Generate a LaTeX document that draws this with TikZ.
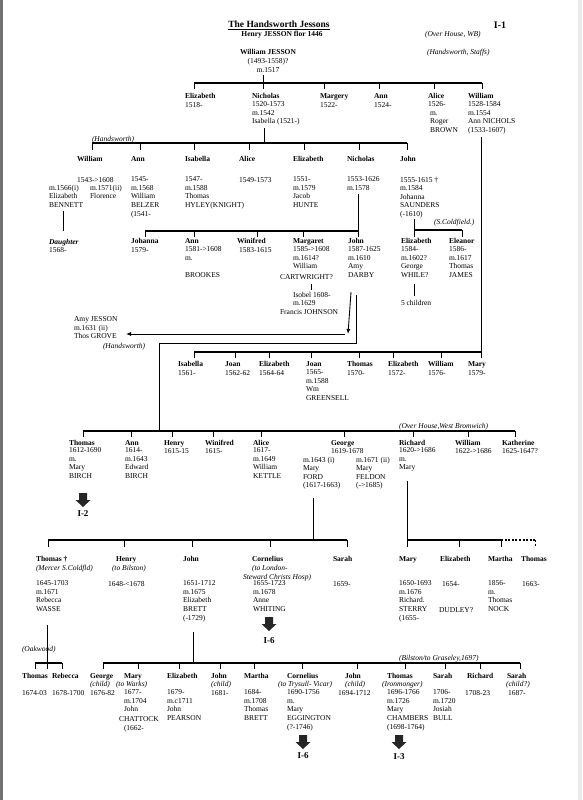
\documentclass[tikz,border=0pt]{standalone}
\usepackage{fontspec}
\setmainfont{Liberation Serif}
\usetikzlibrary{arrows.meta}
\newcommand\fsz{\fontsize{7.5}{8.6}\selectfont}
\newcommand\SSt{\rule{0pt}{5.8pt}}
\newcommand\fticks[3]{\foreach \xx in {#1} {\draw[ln] (\xx,#2) -- (\xx,#3);}}
\newcommand\barr[2]{\fill[black!85] (#1-4,#2) -- (#1+4,#2) -- (#1+4,#2+7) -- (#1+7.5,#2+7) -- (#1,#2+14) -- (#1-7.5,#2+7) -- (#1-4,#2+7) -- cycle;}
\begin{document}
\begin{tikzpicture}[x=1pt,y=-1pt,
  nm/.style={anchor=north west,inner sep=0pt,outer sep=0pt,font=\fsz\bfseries,yshift=3.2pt,execute at begin node=\SSt},
  tx/.style={nm,font=\fsz,align=left},
  it/.style={nm,font=\fsz\itshape},
  lab/.style={inner sep=0pt,font=\fontsize{9}{10}\selectfont\bfseries},
  ln/.style={line width=0.9pt},
  bar/.style={line width=1.1pt},
  arr/.style={ln,-{Latex[length=5pt,width=4pt]}}]
\fill[white] (0,0) rectangle (582,800);
\useasboundingbox (0,0) rectangle (582,800);
\fill[black!55] (0,0) rectangle (2.5,800);
\fill[black!8] (578,0) rectangle (582,800);

% ---------- header
\node[inner sep=0pt,font=\fontsize{9.5}{11}\selectfont\bfseries] (title) at (279,25) {\underline{The Handsworth Jessons}};
\node[inner sep=0pt,font=\fsz\bfseries] (henry) at (282,35) {Henry JESSON flor 1446};
\node[inner sep=0pt,font=\fontsize{10}{12}\selectfont\bfseries] (i1) at (500,25) {I-1};
\node[it] (oh) at (425,34) {(Over House, WB)};
\node[it] (hs) at (427,52) {(Handsworth, Staffs)};
\node[tx,anchor=north,align=center] (wj) at (268,52) {{\bfseries William JESSON}\\[1pt](1493-1558)?\\m.1517};

% ---------- generation 1
\draw[ln] (263,75) -- (263,83);
\draw[bar] (194,83) -- (482,83);
\fticks{194,263,324,379,434,482}{83}{89}
\node[nm] (g1a) at (185,96) {Elizabeth};
\node[tx] (g1ad) at (185,105) {1518-};
\node[nm] (g1b) at (252,96) {Nicholas};
\node[tx] (g1bd) at (252,105) {1520-1573\\m.1542\\Isabella (1521-)};
\node[nm] (g1c) at (320,96) {Margery};
\node[tx] (g1cd) at (320,105) {1522-};
\node[nm] (g1d) at (374,96) {Ann};
\node[tx] (g1dd) at (374,105) {1524-};
\node[nm] (g1e) at (428,96) {Alice};
\node[tx] (g1ed) at (428,105) {1526-\\\hspace*{2pt}m.\\\hspace*{2pt}Roger\\\hspace*{2pt}BROWN};
\node[nm] (g1f) at (468,96) {William};
\node[tx] (g1fd) at (468,105) {1528-1584\\m.1554\\Ann NICHOLS\\(1533-1607)};

% ---------- generation 2 (Nicholas)
\draw[ln] (264,128) -- (264,143);
\node[it] (hw1) at (92,138.5) {(Handsworth)};
\draw[bar] (92,143) -- (407,143);
\fticks{92,140,194,249,304,359,407}{143}{150}
\node[nm] (g2a) at (77,159) {William};
\node[tx] (g2ad) at (77,180) {1543->1608};
\node[tx] (g2ae) at (49,188) {m.1566(i)\\Elizabeth\\BENNETT};
\node[tx] (g2af) at (90,188) {m.1571(ii)\\Florence};
\node[nm] (g2b) at (131,159) {Ann};
\node[tx] (g2bd) at (131,180) {1545-\\m.1568\\William\\BELZER\\(1541-};
\node[nm] (g2c) at (185,159) {Isabella};
\node[tx] (g2cd) at (185,180) {1547-\\m.1588\\Thomas\\HYLEY(KNIGHT)};
\node[nm] (g2d) at (239,159) {Alice};
\node[tx] (g2dd) at (239,180) {1549-1573};
\node[nm] (g2e) at (293,159) {Elizabeth};
\node[tx] (g2ed) at (293,180) {1551-\\m.1579\\Jacob\\HUNTE};
\node[nm] (g2f) at (347,159) {Nicholas};
\node[tx] (g2fd) at (347,180) {1553-1626\\m.1578};
\node[nm] (g2g) at (400,159) {John};
\node[tx] (g2gd) at (400,180) {1555-1615 †\\m.1584\\Johanna\\SAUNDERS\\(-1610)};

% William -> Daughter
\draw[ln] (63,211) -- (63,231);
\node[nm,font=\fsz\bfseries\itshape] (dau) at (49,242) {Daughter};
\node[tx] (daud) at (49,250) {1568-};

% Nicholas (1553) children
\draw[ln] (358,194) -- (358,231);
\draw[bar] (145,231) -- (358,231);
\fticks{145,194,257,303,358}{231}{237}
\node[nm] (g3a) at (131,241) {Johanna};
\node[tx] (g3ad) at (131,250) {1579-};
\node[nm] (g3b) at (185,241) {Ann};
\node[tx] (g3bd) at (185,250) {1581->1608\\m.\\[8.6pt]BROOKES};
\node[nm] (g3c) at (237,241) {Winifred};
\node[tx] (g3cd) at (239,250) {1583-1615};
\node[nm] (g3d) at (293,241) {Margaret};
\node[tx] (g3dd) at (293,250) {1585->1608\\m.1614?\\William};
\node[tx] (g3de) at (280,277) {CARTWRIGHT?};
\draw[ln] (311,284) -- (311,290);
\node[tx] (isob) at (293,295) {Isobel 1608-\\m.1629};
\node[tx] (isobd) at (280,312) {Francis JOHNSON};
\node[nm] (g3e) at (348,241) {John};
\node[tx] (g3ed) at (348,250) {1587-1625\\m.1610\\Amy\\DARBY};

% John (1555) children
\draw[ln] (414,219) -- (414,230);
\node[it] (sc) at (434,222) {(S.Coldfield.)};
\draw[bar] (414,230) -- (462,230);
\fticks{414,462}{230}{237}
\node[nm] (g3f) at (401,241) {Elizabeth};
\node[tx] (g3fd) at (401,250) {1584-\\m.1602?\\George\\WHILE?};
\draw[ln] (414,284) -- (414,296);
\node[tx] (five) at (401,303) {5 children};
\node[nm] (g3g) at (449,241) {Eleanor};
\node[tx] (g3gd) at (449,250) {1586-\\m.1617\\Thomas\\JAMES};

% Amy Jesson
\node[tx] (amy) at (74,320) {Amy JESSON\\m.1631 (ii)\\Thos GROVE};
\node[it] (hw2) at (103,346) {(Handsworth)};
\coordinate (amyarr) at (126,334);
\coordinate (jarr) at (348,334);
\draw[arr] (351,292) -- (jarr);
\draw[arr] (345,334) -- (amyarr);

% John (1587) line to his children
\draw[ln] (356,295) -- (356,343) -- (159,343) -- (159,431);

% William (1528) children
\draw[ln] (481,137) -- (481,352);
\draw[bar] (194,352) -- (481,352);
\fticks{194,235,269,311,359,393,441,481}{352}{358}
\node[nm] (w1) at (178,364) {Isabella};
\node[tx] (w1d) at (178,373) {1561-};
\node[nm] (w2) at (225,364) {Joan};
\node[tx] (w2d) at (225,373) {1562-62};
\node[nm] (w3) at (259,364) {Elizabeth};
\node[tx] (w3d) at (259,373) {1564-64};
\node[nm] (w4) at (306,364) {Joan};
\node[tx] (w4d) at (306,373) {1565-\\m.1588\\Wm\\GREENSELL};
\node[nm] (w5) at (347,364) {Thomas};
\node[tx] (w5d) at (347,373) {1570-};
\node[nm] (w6) at (388,364) {Elizabeth};
\node[tx] (w6d) at (388,373) {1572-};
\node[nm] (w7) at (428,364) {William};
\node[tx] (w7d) at (428,373) {1576-};
\node[nm] (w8) at (468,364) {Mary};
\node[tx] (w8d) at (468,373) {1579-};

% ---------- generation 4 (John & Amy Darby)
\node[it] (ohwb) at (399,426) {(Over House,West Bromwich)};
\draw[bar] (83,431) -- (515,431);
\fticks{83,131,172,213,261,344,413,468,515}{431}{437}
\node[nm] (g4a) at (69,443) {Thomas};
\node[tx] (g4ad) at (69,451) {1612-1690\\m.\\Mary\\BIRCH};
\node[nm] (g4b) at (125,443) {Ann};
\node[tx] (g4bd) at (125,451) {1614-\\m.1643\\Edward\\BIRCH};
\node[nm] (g4c) at (164,443) {Henry};
\node[tx] (g4cd) at (164,451) {1615-15};
\node[nm] (g4d) at (205,443) {Winifred};
\node[tx] (g4dd) at (205,451) {1615-};
\node[nm] (g4e) at (253,443) {Alice};
\node[tx] (g4ed) at (253,451) {1617-\\m.1649\\William\\KETTLE};
\node[nm] (g4f) at (331,443) {George};
\node[tx] (g4fd) at (331,451) {1619-1678};
\node[tx] (g4fe) at (303,460) {m.1643 (i)\\Mary\\FORD\\(1617-1663)};
\node[tx] (g4ff) at (356,460) {m.1671 (ii)\\Mary\\FELDON\\(->1685)};
\node[nm] (g4g) at (399,443) {Richard};
\node[tx] (g4gd) at (399,451) {1620->1686\\m.\\Mary};
\node[nm] (g4h) at (455,443) {William};
\node[tx] (g4hd) at (455,451) {1622->1686};
\node[nm] (g4i) at (502,443) {Katherine};
\node[tx] (g4id) at (502,451) {1625-1647?};

\barr{83}{493}
\node[lab] (i2) at (83,514) {I-2};

% George's children
\draw[ln] (313,498) -- (313,540);
\draw[bar] (48,540) -- (347,540);
\fticks{48,124,192,270,347}{540}{547}
\node[nm] (g5a) at (36,559) {Thomas †};
\node[it] (g5ai) at (36,568) {(Mercer S.Coldfld)};
\node[tx] (g5ad) at (36,584) {1645-1703\\m.1671\\Rebecca\\WASSE};
\node[nm] (g5b) at (116,559) {Henry};
\node[it] (g5bi) at (112,568) {(to Bilston)};
\node[tx] (g5bd) at (108,584) {1648-<1678};
\node[nm] (g5c) at (183,559) {John};
\node[tx] (g5cd) at (183,584) {1651-1712\\m.1675\\Elizabeth\\BRETT\\(-1729)};
\node[nm] (g5d) at (252,559) {Cornelius};
\node[it] (g5di) at (252,568) {(to London-};
\node[it] (g5dj) at (243,577) {Steward Christs Hosp)};
\node[tx] (g5dd) at (253,584) {1655-1723\\m.1678\\Anne\\WHITING};
\node[nm] (g5e) at (333,559) {Sarah};
\node[tx] (g5ed) at (333,584) {1659-};
\barr{269}{617}
\node[lab] (i6a) at (269,641) {I-6};

% Richard's children
\draw[ln] (407,481) -- (407,540);
\draw[bar] (407,540) -- (501,540);
\draw[bar,dash pattern=on 2pt off 1.6pt] (501,540) -- (535,540);
\fticks{407,459,501}{540}{547}
\draw[ln,dash pattern=on 2pt off 1.6pt] (535,540) -- (535,547);
\node[nm] (r1) at (399,559) {Mary};
\node[tx] (r1d) at (399,584) {1650-1693\\m.1676\\Richard.\\STERRY\\(1655-};
\node[nm] (r2) at (440,559) {Elizabeth};
\node[tx] (r2d) at (442,584) {1654-};
\node[tx] (r2e) at (439,610) {DUDLEY?};
\node[nm] (r3) at (488,559) {Martha};
\node[tx] (r3d) at (488,584) {1856-\\m.\\Thomas\\NOCK};
\node[nm] (r4) at (521,559) {Thomas};
\node[tx] (r4d) at (522,584) {1663-};

% Thomas (1645) children
\draw[ln] (47,625) -- (47,663);
\node[it] (oak) at (22,649) {(Oakwood)};
\draw[bar] (35,663) -- (62,663);
\fticks{35,47,62}{663}{669}
\node[nm] (t1) at (22,676) {Thomas};
\node[tx] (t1d) at (22,693) {1674-03};
\node[nm] (t2) at (52,676) {Rebecca};
\node[tx] (t2d) at (52,693) {1678-1700};

% John (1651) children
\draw[ln] (193,632) -- (193,663);
\node[it] (bil) at (399,658) {(Bilston/to Graseley,1697)};
\draw[bar] (103,663) -- (520,663);
\fticks{103,138,179,220,254,302,357,405,445,480,520}{663}{669}
\node[nm] (j1) at (90,676) {George};
\node[it] (j1i) at (90,684) {(child)};
\node[tx] (j1d) at (90,693) {1676-82};
\node[nm] (j2) at (124,676) {Mary};
\node[it] (j2i) at (116,684) {(to Warks)};
\node[tx] (j2d) at (124,693) {1677-\\m.1704\\John};
\node[tx] (j2e) at (119,719) {CHATTOCK};
\node[tx] (j2f) at (124,728) {(1662-};
\node[nm] (j3) at (167,676) {Elizabeth};
\node[tx] (j3d) at (167,693) {1679-\\m.c1711\\John\\PEARSON};
\node[nm] (j4) at (211,676) {John};
\node[it] (j4i) at (211,684) {(child)};
\node[tx] (j4d) at (211,693) {1681-};
\node[nm] (j5) at (244,676) {Martha};
\node[tx] (j5d) at (244,693) {1684-\\m.1708\\Thomas\\BRETT};
\node[nm] (j6) at (287,676) {Cornelius};
\node[it] (j6i) at (278,684) {(to Trysull- Vicar)};
\node[tx] (j6d) at (287,693) {1690-1756\\m.\\Mary\\EGGINGTON\\(?-1746)};
\node[nm] (j7) at (345,676) {John};
\node[it] (j7i) at (345,684) {(child)};
\node[tx] (j7d) at (338,693) {1694-1712};
\node[nm] (j8) at (387,676) {Thomas};
\node[it] (j8i) at (382,684) {(Ironmonger)};
\node[tx] (j8d) at (387,693) {1696-1766\\m.1726\\Mary\\CHAMBERS\\(1698-1764)};
\node[nm] (j9) at (433,676) {Sarah};
\node[tx] (j9d) at (433,693) {1706-\\m.1720\\Josiah\\BULL};
\node[nm] (j10) at (467,676) {Richard};
\node[tx] (j10d) at (465,693) {1708-23};
\node[nm] (j11) at (507,676) {Sarah};
\node[it] (j11i) at (506,684) {(child?)};
\node[tx] (j11d) at (508,693) {1687-};

\barr{303}{735}
\node[lab] (i6b) at (303,756) {I-6};
\barr{399}{735}
\node[lab] (i3) at (399,757) {I-3};
\end{tikzpicture}
\end{document}
